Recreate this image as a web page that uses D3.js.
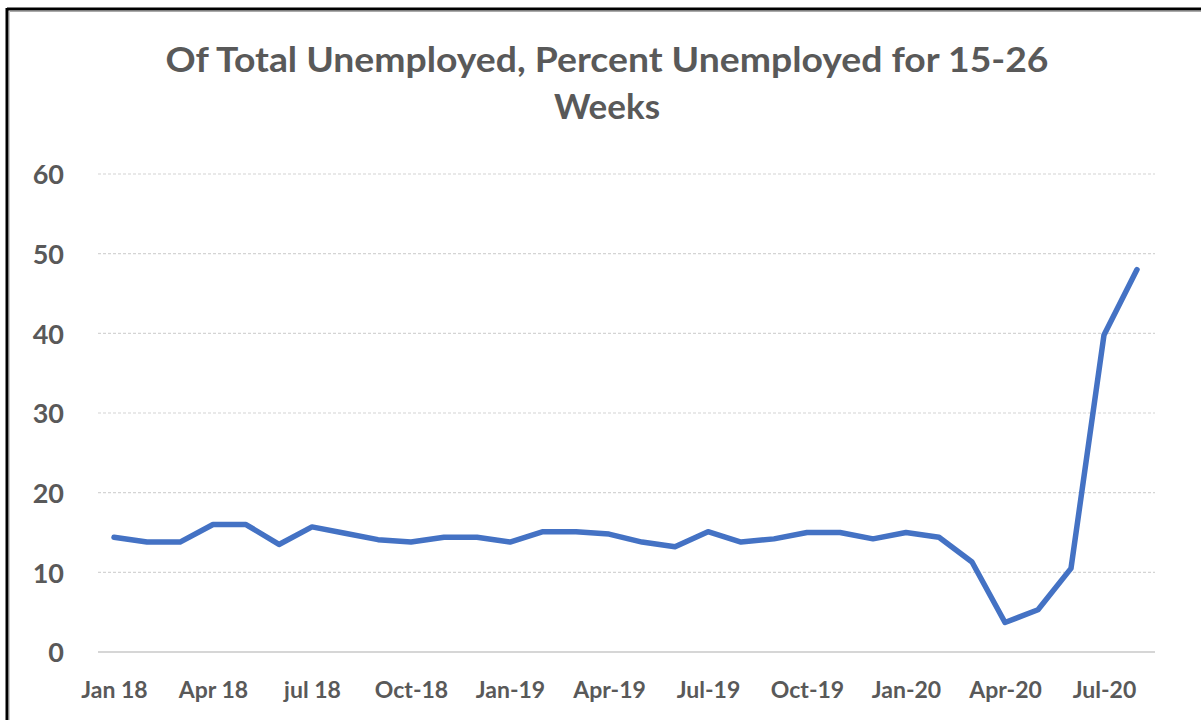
<!DOCTYPE html>
<html>
<head>
<meta charset="utf-8">
<script src="https://cdn.jsdelivr.net/npm/d3@7"></script>
<style>
  html, body { margin: 0; padding: 0; background: #fff; }
  svg { display: block; }
  text { font-family: Lato, "Open Sans", sans-serif; font-weight: 700; fill: #595959; }
</style>
</head>
<body>
<svg id="chart" width="1201" height="720"></svg>
<script>
const months = ["Jan 18","Feb 18","Mar 18","Apr 18","May 18","Jun 18","Jul 18","Aug 18","Sep 18","Oct 18","Nov 18","Dec 18",
                "Jan 19","Feb 19","Mar 19","Apr 19","May 19","Jun 19","Jul 19","Aug 19","Sep 19","Oct 19","Nov 19","Dec 19",
                "Jan 20","Feb 20","Mar 20","Apr 20","May 20","Jun 20","Jul 20","Aug 20"];
const values = [14.4,13.8,13.8,16.0,16.0,13.5,15.7,14.9,14.1,13.8,14.4,14.4,
                13.8,15.1,15.1,14.8,13.8,13.2,15.1,13.8,14.2,15.0,15.0,14.2,
                15.0,14.4,11.3,3.7,5.3,10.5,39.8,48.0];
const tickMonths = ["Jan 18","Apr 18","Jul 18","Oct 18","Jan 19","Apr 19","Jul 19","Oct 19","Jan 20","Apr 20","Jul 20"];
const tickLabels = ["Jan 18","Apr 18","jul 18","Oct-18","Jan-19","Apr-19","Jul-19","Oct-19","Jan-20","Apr-20","Jul-20"];
const yTicks = [0,10,20,30,40,50,60];
const titleLines = ["Of Total Unemployed, Percent Unemployed for 15-26","Weeks"];

const svg = d3.select("#chart");

// frame (top and left edges visible)
svg.append("line").attr("x1",7).attr("x2",1201).attr("y1",9).attr("y2",9).attr("stroke","#000").attr("stroke-width",3);
svg.append("line").attr("x1",7).attr("x2",7).attr("y1",8).attr("y2",720).attr("stroke","#000").attr("stroke-width",3);
svg.append("line").attr("x1",9).attr("x2",1201).attr("y1",11.5).attr("y2",11.5).attr("stroke","#aaa").attr("stroke-width",1);
svg.append("line").attr("x1",9.5).attr("x2",9.5).attr("y1",11).attr("y2",720).attr("stroke","#ccc").attr("stroke-width",1);

const x = d3.scalePoint().domain(months).range([114, 1137]);
const y = d3.scaleLinear().domain([0, 60]).range([652, 174]);

// title
svg.append("text").attr("x",607).attr("y",72).attr("text-anchor","middle")
  .style("font-size","34px").attr("textLength",883).attr("lengthAdjust","spacingAndGlyphs").text(titleLines[0]);
svg.append("text").attr("x",607).attr("y",119).attr("text-anchor","middle")
  .style("font-size","34px").attr("textLength",106).attr("lengthAdjust","spacingAndGlyphs").text(titleLines[1]);

// gridlines
const grid = svg.append("g");
grid.selectAll("line").data(yTicks).join("line")
  .attr("x1",98).attr("x2",1155)
  .attr("y1",d=>y(d)).attr("y2",d=>y(d))
  .attr("stroke", d => d === 0 ? "#c8c8c8" : "#d4d4d4")
  .attr("stroke-width", d => d === 0 ? 1.5 : 1.2)
  .attr("stroke-dasharray", d => d === 0 ? null : "3,2");

// y axis labels
const yAxis = d3.axisLeft(y).tickValues(yTicks).tickSize(0).tickPadding(0).tickFormat(d3.format("d"));
const gy = svg.append("g").attr("transform","translate(64,0)").call(yAxis);
gy.select(".domain").remove();
gy.selectAll("text").style("font-size","27px").attr("fill","#595959").attr("dy","0.36em");

// x axis labels
const labelMap = new Map(tickMonths.map((m,i)=>[m, tickLabels[i]]));
const xAxis = d3.axisBottom(x).tickValues(tickMonths).tickSize(0).tickPadding(0).tickFormat(d=>labelMap.get(d));
const gx = svg.append("g").attr("transform","translate(0,690)").call(xAxis);
gx.select(".domain").remove();
gx.selectAll("text").style("font-size","23px").attr("fill","#595959").attr("dy","0.36em");

// line
const line = d3.line().x((d,i)=>x(months[i])).y(d=>y(d));
svg.append("path").datum(values)
  .attr("d", line)
  .attr("fill","none")
  .attr("stroke","#4472C4")
  .attr("stroke-width",5.5)
  .attr("stroke-linejoin","round")
  .attr("stroke-linecap","round");
</script>
</body>
</html>
